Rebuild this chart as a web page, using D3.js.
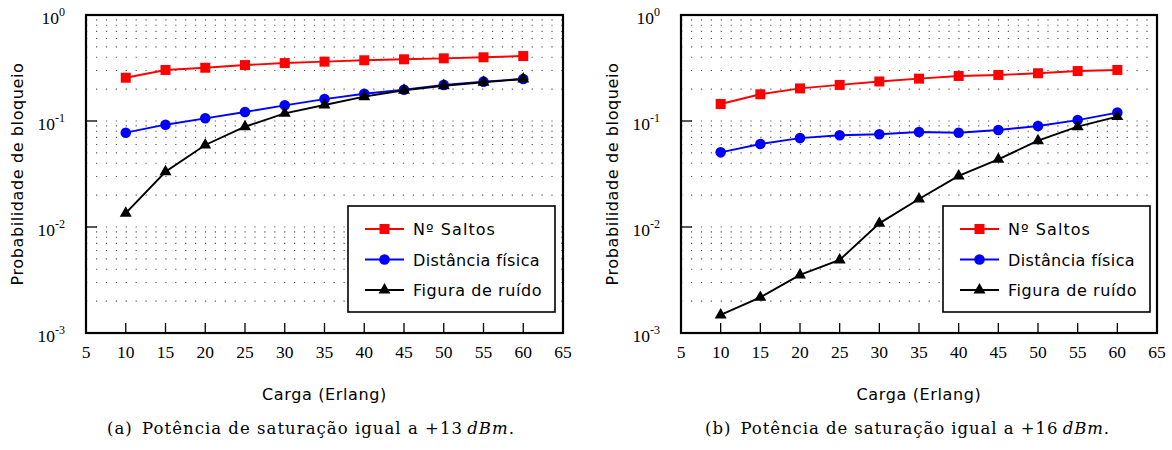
<!DOCTYPE html>
<html>
<head>
<meta charset="utf-8">
<script src="https://cdn.jsdelivr.net/npm/d3@7"></script>
<style>
  html, body { margin: 0; padding: 0; background: #fff; }
  svg { display: block; }
</style>
</head>
<body>
<svg id="chart" width="1172" height="450"></svg>
<script>
// ---------------- data ----------------
const loads = [10, 15, 20, 25, 30, 35, 40, 45, 50, 55, 60];

// panel (a): +13 dBm
const saltosA = [0.256, 0.303, 0.318, 0.337, 0.352, 0.363, 0.374, 0.382, 0.390, 0.399, 0.410];
const distanciaA = [0.0776, 0.0923, 0.106, 0.1216, 0.1406, 0.161, 0.181, 0.197, 0.219, 0.235, 0.249];
const ruidoA = [0.0135, 0.0332, 0.0594, 0.0883, 0.118, 0.1416, 0.1696, 0.195, 0.215, 0.232, 0.249];

// panel (b): +16 dBm
const saltosB = [0.1446, 0.1786, 0.203, 0.219, 0.236, 0.251, 0.266, 0.272, 0.282, 0.296, 0.303];
const distanciaB = [0.0506, 0.0607, 0.069, 0.0733, 0.0749, 0.0788, 0.0776, 0.0822, 0.0897, 0.102, 0.120];
const ruidoB = [0.00148, 0.00217, 0.00353, 0.00489, 0.01083, 0.01837, 0.0303, 0.0435, 0.0652, 0.0884, 0.110];

const seriesNames = ["Nº Saltos", "Distância física", "Figura de ruído"];
const seriesColors = ["#ff0000", "#0000ff", "#000000"];
const seriesSymbols = [d3.symbolSquare, d3.symbolCircle, d3.symbolTriangle];

const xTicks = [5, 10, 15, 20, 25, 30, 35, 40, 45, 50, 55, 60, 65];
const xDomain = [5, 65];
const yExponents = [0, -1, -2, -3];
const yDomain = [1e-3, 1];

const xLabel = "Carga (Erlang)";
const yLabel = "Probabilidade de bloqueio";
const captionLabels = ["(a)", "(b)"];
const captionTexts = ["Potência de saturação igual a +13\u2009", "Potência de saturação igual a +16\u2009"];

// ---------------- layout ----------------
const svg = d3.select("#chart");
const serif = "'Liberation Serif', 'DejaVu Serif', serif";
const capSerif = "'DejaVu Serif', 'Liberation Serif', serif";
const sans = "'DejaVu Sans', 'Noto Sans', sans-serif";

const panels = [
  { left: 86, right: 563, series: [saltosA, distanciaA, ruidoA], legendX: 348, caption: 0, capX: 107, capW: 408 },
  { left: 681, right: 1157, series: [saltosB, distanciaB, ruidoB], legendX: 943, caption: 1, capX: 705, capW: 405 }
];
const plotTop = 15, plotBottom = 333;
const symSizes = [100, 88, 62];

function fitSpacing(sel, target) {
  const w = sel.node().getComputedTextLength();
  const n = sel.text().length;
  if (n > 1) sel.attr("letter-spacing", ((target - w) / n).toFixed(3));
}

panels.forEach(p => {
  const x = d3.scaleLinear().domain(xDomain).range([p.left, p.right]);
  const y = d3.scaleLog().domain(yDomain).range([plotBottom, plotTop]);
  const g = svg.append("g");

  // dotted horizontal grid at each log tick
  const gridVals = [];
  for (let e = -3; e < 0; e++) {
    for (let m = 1; m <= 9; m++) {
      const v = m * Math.pow(10, e);
      if (v > yDomain[0]) gridVals.push(v);
    }
  }
  g.selectAll("line.grid").data(gridVals).enter().append("line")
    .attr("x1", p.left + 1).attr("x2", p.right - 1)
    .attr("y1", d => y(d)).attr("y2", d => y(d))
    .attr("stroke", "#555").attr("stroke-width", 1.1)
    .attr("stroke-dasharray", "1.2,8.7")
    .attr("stroke-dashoffset", -9);

  // y major ticks (inward)
  g.selectAll("line.yt").data(yExponents).enter().append("line")
    .attr("x1", p.left).attr("x2", p.left + 11)
    .attr("y1", d => y(Math.pow(10, d))).attr("y2", d => y(Math.pow(10, d)))
    .attr("stroke", "#000").attr("stroke-width", 1.3);

  // x ticks (inward)
  g.selectAll("line.xt").data(xTicks).enter().append("line")
    .attr("x1", d => x(d)).attr("x2", d => x(d))
    .attr("y1", plotBottom).attr("y2", plotBottom - 10)
    .attr("stroke", "#000").attr("stroke-width", 1.3);

  // y tick labels 10^e
  yExponents.forEach(e => {
    const t = g.append("text")
      .attr("x", p.left - 21).attr("y", y(Math.pow(10, e)) + 8.5)
      .attr("text-anchor", "end")
      .attr("font-family", serif).attr("font-size", 17.5).attr("fill", "#000");
    t.append("tspan").text("10");
    t.append("tspan").attr("dy", -7.5).attr("font-size", 12).text(e === 0 ? "0" : "-" + (-e));
  });

  // x tick labels
  g.selectAll("text.xl").data(xTicks).enter().append("text")
    .attr("x", d => x(d)).attr("y", 358)
    .attr("text-anchor", "middle")
    .attr("font-family", serif).attr("font-size", 17.5).attr("fill", "#000")
    .text(d => d);

  // series
  p.series.forEach((vals, i) => {
    const pts = loads.map((l, k) => [l, vals[k]]);
    g.append("path")
      .attr("d", d3.line().x(d => x(d[0])).y(d => y(d[1]))(pts))
      .attr("fill", "none").attr("stroke", seriesColors[i]).attr("stroke-width", 1.9);
    g.selectAll(null).data(pts).enter().append("path")
      .attr("transform", d => `translate(${x(d[0])},${y(d[1])})`)
      .attr("d", d3.symbol().type(seriesSymbols[i]).size(symSizes[i]))
      .attr("fill", seriesColors[i]);
  });

  // frame
  g.append("rect")
    .attr("x", p.left).attr("y", plotTop)
    .attr("width", p.right - p.left).attr("height", plotBottom - plotTop)
    .attr("fill", "none").attr("stroke", "#000").attr("stroke-width", 2.2);

  // legend
  const lg = g.append("g");
  const lx = p.legendX, ly = 206, lw = 207, lh = 106;
  lg.append("rect").attr("x", lx).attr("y", ly).attr("width", lw).attr("height", lh)
    .attr("fill", "#fff").attr("stroke", "#000").attr("stroke-width", 1.6);
  const legendWidths = [83, 127, 129];
  seriesNames.forEach((name, i) => {
    const ry = 229 + i * 30.5;
    lg.append("line").attr("x1", lx + 17).attr("x2", lx + 56)
      .attr("y1", ry).attr("y2", ry)
      .attr("stroke", seriesColors[i]).attr("stroke-width", 1.9);
    lg.append("path").attr("transform", `translate(${lx + 36.5},${ry})`)
      .attr("d", d3.symbol().type(seriesSymbols[i]).size(symSizes[i]))
      .attr("fill", seriesColors[i]);
    const t = lg.append("text").attr("x", lx + 65).attr("y", ry + 6)
      .attr("font-family", sans).attr("font-size", 16).attr("fill", "#000")
      .text(name);
    fitSpacing(t, legendWidths[i]);
  });

  // axis labels
  const cx = (p.left + p.right) / 2;
  const xl = g.append("text").attr("x", cx).attr("y", 400)
    .attr("text-anchor", "middle").attr("font-family", sans).attr("font-size", 16)
    .attr("fill", "#000").text(xLabel);
  fitSpacing(xl, 125);
  const yl = g.append("text")
    .attr("transform", `translate(${p.left - 63},${(plotTop + plotBottom) / 2}) rotate(-90)`)
    .attr("text-anchor", "middle").attr("font-family", sans).attr("font-size", 16)
    .attr("fill", "#000").text(yLabel);
  fitSpacing(yl, 223);

  // caption
  const cap = g.append("text").attr("x", p.capX).attr("y", 434)
    .attr("font-family", capSerif).attr("font-size", 16.5).attr("fill", "#000");
  cap.append("tspan").text(captionLabels[p.caption] + "\u2002");
  cap.append("tspan").text(captionTexts[p.caption]);
  cap.append("tspan").attr("font-style", "italic").text("dBm");
  cap.append("tspan").text(".");
  fitSpacing(cap, p.capW);
});
</script>
</body>
</html>
